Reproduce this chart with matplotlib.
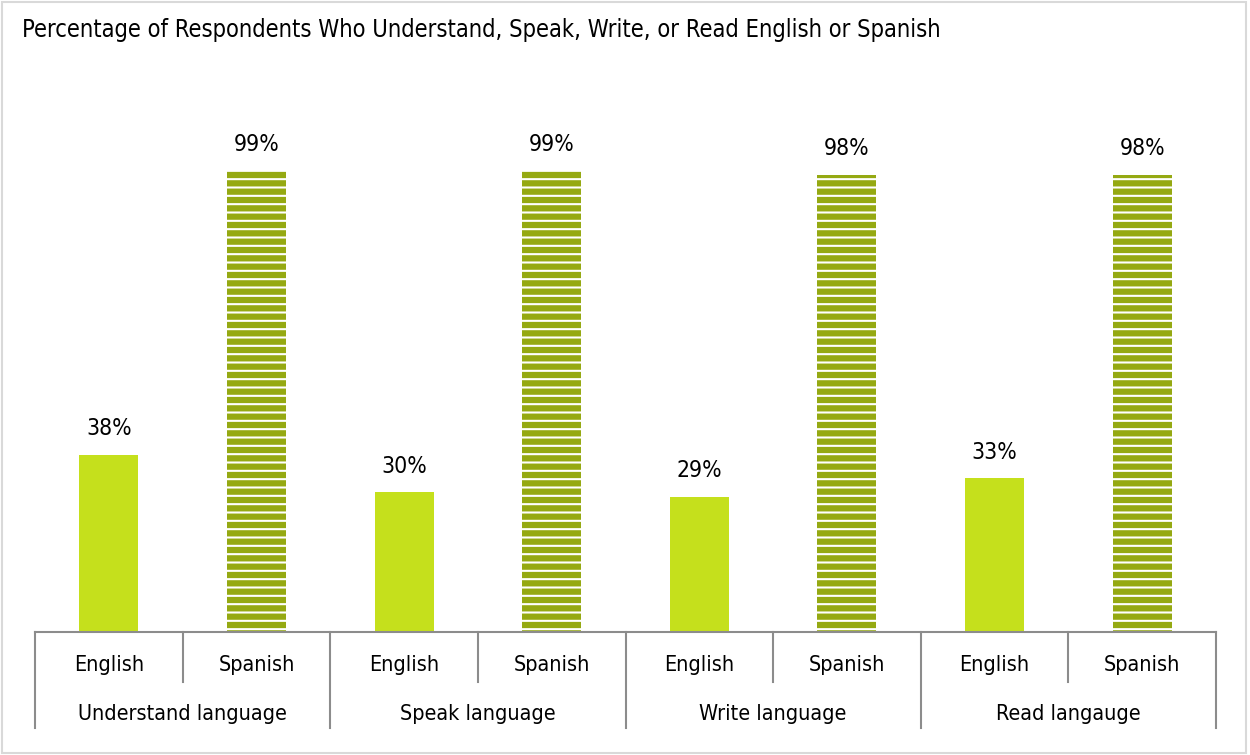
import numpy as np
import matplotlib.pyplot as plt
from matplotlib.patches import Rectangle
from matplotlib.transforms import blended_transform_factory

plt.rcParams['font.family'] = ['DejaVu Sans']
plt.rcParams['font.stretch'] = 'condensed'
plt.rcParams['hatch.linewidth'] = 1.5

groups = ["Understand language", "Speak language", "Write language", "Read langauge"]
languages = ["English", "Spanish"]
english = [38, 30, 29, 33]
spanish = [99, 99, 98, 98]

lime = "#c5e01c"
olive = "#95a912"
axis_gray = "#8c8c8c"

fig = plt.figure(figsize=(12.5, 7.55), dpi=100)
W, H = 1250, 755
# axes in pixel space: left 35, right 1216, bottom 632, top 100
ax = fig.add_axes([35 / W, 1 - 632 / H, (1216 - 35) / W, (632 - 100) / H])

n = len(groups) * 2
x = np.arange(n)
vals = [v for pair in zip(english, spanish) for v in pair]
bw = 0.4
for i, v in enumerate(vals):
    if i % 2 == 0:
        ax.bar(x[i], v, width=bw, color=lime, linewidth=0)
    else:
        ax.bar(x[i], v, width=bw, facecolor=olive, edgecolor="white",
               hatch="--", linewidth=0)
    ax.text(x[i], v + 3.1, f"{v}%", ha="center", va="bottom", fontsize=16.5)

ax.set_xlim(-0.5, n - 0.5)
ax.set_ylim(0, (632 - 100) / ((632 - 170) / 99))
ax.axis("off")

# category axis
ax.plot([-0.5, n - 0.5], [0, 0], color=axis_gray, lw=1.5, clip_on=False,
        transform=ax.get_xaxis_transform())
tr = blended_transform_factory(ax.transData, fig.transFigure)
inner_bottom = 1 - 682 / H
outer_bottom = 1 - 728 / H
axis_y = 1 - 632 / H
for k in range(n + 1):
    xb = k - 0.5
    yb = outer_bottom if k % 2 == 0 else inner_bottom
    ax.plot([xb, xb], [axis_y, yb], color=axis_gray, lw=1.5, transform=tr,
            clip_on=False)
for i in range(n):
    ax.text(x[i], 1 - 665 / H, languages[i % 2], transform=tr, ha="center",
            va="center", fontsize=15.5)
for g, name in enumerate(groups):
    ax.text(2 * g + 0.5, 1 - 714 / H, name, transform=tr, ha="center",
            va="center", fontsize=15.5)

fig.text(22 / W, 1 - 30 / H, "Percentage of Respondents Who Understand, Speak, Write, or Read English or Spanish",
         ha="left", va="center", fontsize=17)

fig.patches.append(Rectangle((2 / W, 2 / H), 1 - 6 / W, 1 - 4 / H,
                             transform=fig.transFigure, fill=False,
                             edgecolor="#d9d9d9", lw=1.5))

fig.savefig("out.png", dpi=100)
